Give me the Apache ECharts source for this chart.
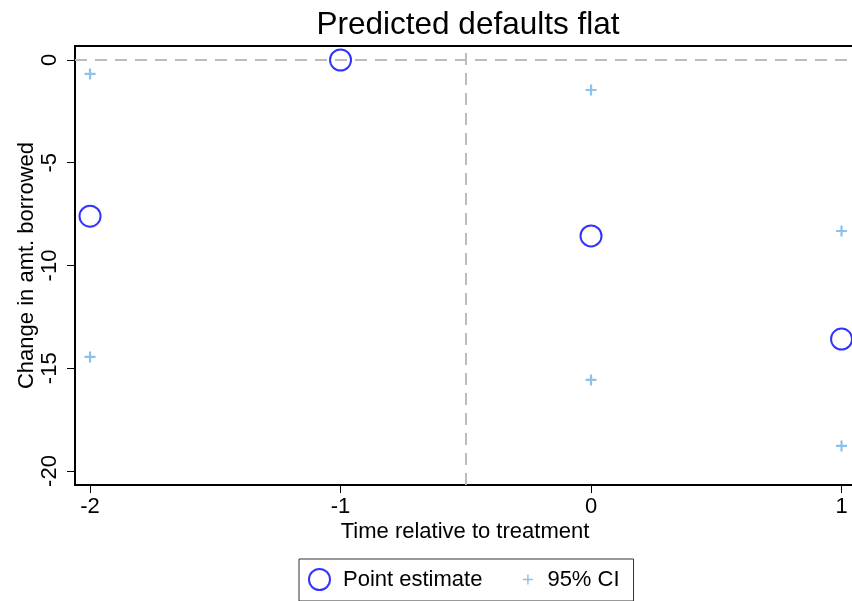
<!DOCTYPE html>
<html>
<head>
<meta charset="utf-8">
<script src="https://cdn.jsdelivr.net/npm/echarts@6/dist/echarts.min.js"></script>
<style>html,body{margin:0;padding:0;background:#fff}#c{width:852px;height:601px}</style>
</head>
<body>
<div id="c"></div>
<script>
const periods = [-2, -1, 0, 1];
const pointEst = [-7.6, 0, -8.56, -13.58];
const ciUpper = [-0.68, null, -1.46, -8.32];
const ciLower = [-14.45, null, -15.57, -18.78];
const xTicks = [-2, -1, 0, 1];
const yTicks = [0, -5, -10, -15, -20];
const refX = -0.5;
const refY = 0;

const FONT = 'Liberation Sans, Arial, Helvetica, sans-serif';
const plusPath = 'path://M4,0h2v4h4v2h-4v4h-2v-4h-4v-2h4z';
const plusLegend = 'path://M0,0h0.01v0.01h-0.01z M20.99,20.99h0.01v0.01h-0.01z M9.75,5.5h1.5v4.25h4.25v1.5h-4.25v4.25h-1.5v-4.25h-4.25v-1.5h4.25z';

const ptData = periods.map((p, i) => [p, pointEst[i]]);
const ciData = [];
periods.forEach((p, i) => {
  if (ciUpper[i] !== null) ciData.push([p, ciUpper[i]]);
  if (ciLower[i] !== null) ciData.push([p, ciLower[i]]);
});

const chart = echarts.init(document.getElementById('c'), null, {renderer: 'canvas'});
chart.setOption({
  animation: false,
  backgroundColor: '#fff',
  textStyle: {fontFamily: FONT},
  title: {
    text: 'Predicted defaults flat',
    left: 463, top: 4, textAlign: 'center',
    textStyle: {fontFamily: FONT, fontSize: 31.5, fontWeight: 'normal', color: '#000'}
  },
  grid: {
    left: 75, top: 46, right: -23, bottom: 116,
    outerBoundsMode: 'none',
    show: true, borderColor: '#000', borderWidth: 2, backgroundColor: '#fff',
    containLabel: false
  },
  xAxis: {
    type: 'value', min: -2.06, max: -2.06 + 800 / 250.5,
    name: 'Time relative to treatment', nameLocation: 'middle', nameGap: 36,
    nameMoveOverlap: false,
    nameTextStyle: {fontFamily: FONT, fontSize: 22, color: '#000', padding: [0, 20, 0, 0]},
    axisLine: {show: true, onZero: false, lineStyle: {color: '#000', width: 2}},
    axisTick: {show: true, length: 8, lineStyle: {color: '#000', width: 1}, customValues: xTicks},
    axisLabel: {fontFamily: FONT, fontSize: 22, color: '#000', margin: 11, customValues: xTicks},
    splitLine: {show: false}
  },
  yAxis: {
    type: 'value', min: -20.681, max: 0.681,
    name: 'Change in amt. borrowed', nameLocation: 'middle', nameGap: 37,
    nameMoveOverlap: false,
    nameTextStyle: {fontFamily: FONT, fontSize: 22, color: '#000'},
    axisLine: {show: true, onZero: false, lineStyle: {color: '#000', width: 2}},
    axisTick: {show: true, length: 8, lineStyle: {color: '#000', width: 1}, customValues: yTicks},
    axisLabel: {fontFamily: FONT, fontSize: 22, color: '#000', margin: 14, rotate: 90, customValues: yTicks},
    splitLine: {show: false}
  },
  legend: {
    left: 299, top: 559,
    padding: [9, 14, 10, 9],
    borderColor: '#333', borderWidth: 1,
    itemWidth: 21, itemHeight: 21, itemGap: 35,
    textStyle: {fontFamily: FONT, fontSize: 22, color: '#000'},
    data: [
      {name: 'Point estimate', icon: 'emptyCircle', textStyle: {padding: [0, 0, 0, 8]}},
      {name: '95% CI', icon: plusLegend, textStyle: {padding: [0, 0, 0, 4]}}
    ]
  },
  series: [
    {
      name: '95% CI', type: 'scatter', symbol: plusPath, symbolSize: 11,
      itemStyle: {color: '#6fb2e6'},
      data: ciData, z: 3,
      markLine: {
        silent: true, symbol: 'none', label: {show: false},
        lineStyle: {color: '#bdbdbd', type: [12, 8], width: 2},
        emphasis: {disabled: true},
        data: [{xAxis: refX}, {yAxis: refY}]
      }
    },
    {
      name: 'Point estimate', type: 'scatter', symbol: 'emptyCircle', symbolSize: 21,
      itemStyle: {color: '#0000ff', borderWidth: 2.2},
      data: ptData, z: 4
    }
  ]
});
</script>
</body>
</html>
